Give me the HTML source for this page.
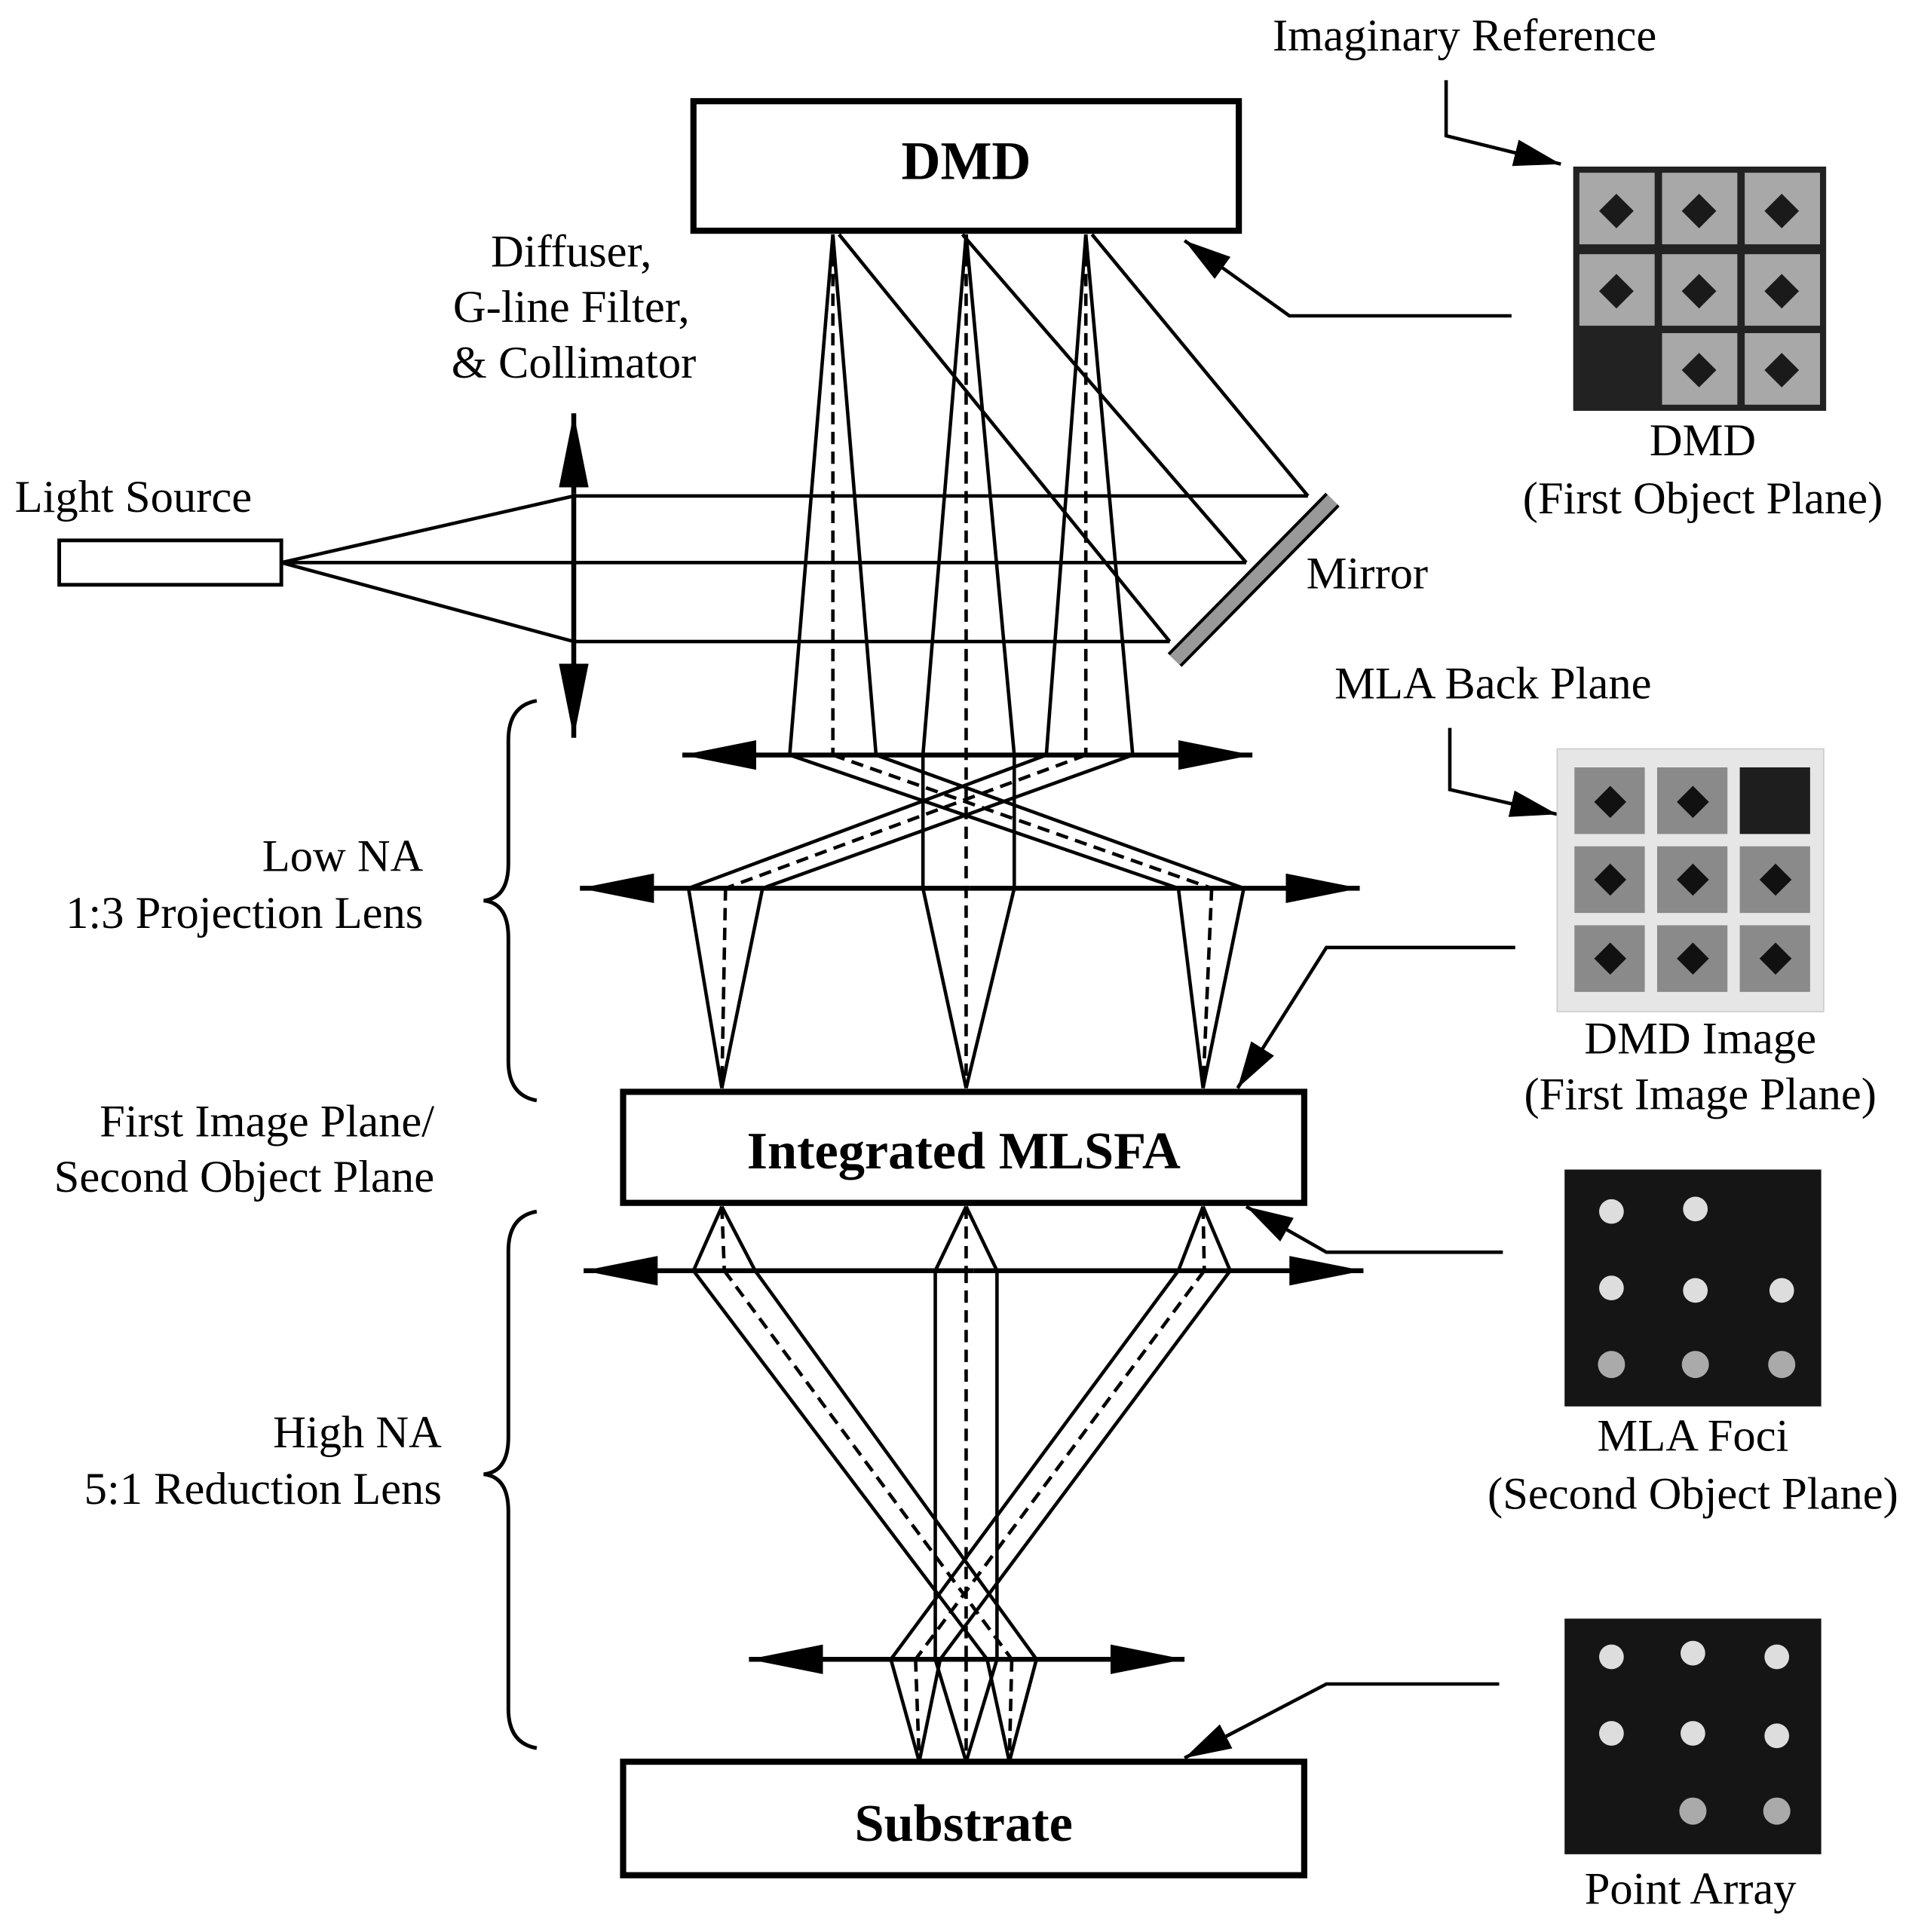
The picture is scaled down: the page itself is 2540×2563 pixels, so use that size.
<!DOCTYPE html>
<html><head><meta charset="utf-8"><style>
html,body{margin:0;padding:0;background:#fff;}
svg{display:block;}
text{font-family:"Liberation Serif",serif;fill:#000;}
</style></head><body>
<svg width="2540" height="2563" viewBox="0 0 1552 1566" xmlns="http://www.w3.org/2000/svg">
<defs>
<marker id="big" viewBox="0 0 10 10" refX="10" refY="5" markerWidth="60" markerHeight="24" markerUnits="userSpaceOnUse" orient="auto" preserveAspectRatio="none"><path d="M0,0 L10,5 L0,10 z" fill="#000"/></marker>
<marker id="sa" viewBox="0 0 10 10" refX="10" refY="5" markerWidth="38" markerHeight="22" markerUnits="userSpaceOnUse" orient="auto" preserveAspectRatio="none"><path d="M0,0 L10,5 L0,10 z" fill="#000"/></marker>
</defs>
<g stroke="#000" fill="none" stroke-width="2.8">
<rect x="562" y="82" width="442" height="105" stroke-width="5"/>
<rect x="505" y="885" width="552" height="90" stroke-width="5"/>
<rect x="505" y="1428" width="552" height="92" stroke-width="5"/>
<rect x="48" y="438" width="180" height="36" stroke-width="3"/>
<path d="M228,456 L465,402 M228,456 L465,456 M228,456 L465,520"/>
<path d="M465,402 L1060,402 M465,456 L1010,456 M465,520 L948,520"/>
<path d="M1060,402 L885,190 M1010,456 L780,190 M948,520 L680,190"/>
<path d="M465,400 L465,335" stroke-width="4" marker-end="url(#big)"/>
<path d="M465,400 L465,598" stroke-width="4" marker-end="url(#big)"/>
<path d="M675,190 L640,612 M675,190 L710,612 M783,190 L748,612 L748,720 L783,882 M783,190 L822,612 L822,720 L783,882 M880,190 L848,612 M880,190 L918,612"/>
<path d="M675,190 L675,612 M783,190 L783,882 M880,190 L880,612" stroke-dasharray="10,6"/>
<path d="M640,612 L955,720 M710,612 L1008,720 M848,612 L558,720 M918,612 L618,720"/>
<path d="M675,612 L982,720 M880,612 L588,720" stroke-dasharray="10,6"/>
<path d="M558,720 L585,882 M618,720 L585,882 M955,720 L975,882 M1008,720 L975,882"/>
<path d="M588,720 L585,882 M982,720 L975,882" stroke-dasharray="10,6"/>
<path d="M783,612 L553,612" stroke-width="4" marker-end="url(#big)"/>
<path d="M783,612 L1015,612" stroke-width="4" marker-end="url(#big)"/>
<path d="M786,720 L470,720" stroke-width="4" marker-end="url(#big)"/>
<path d="M786,720 L1102,720" stroke-width="4" marker-end="url(#big)"/>
<path d="M789,1030 L473,1030" stroke-width="4" marker-end="url(#big)"/>
<path d="M789,1030 L1105,1030" stroke-width="4" marker-end="url(#big)"/>
<path d="M783,1345 L607,1345" stroke-width="4" marker-end="url(#big)"/>
<path d="M783,1345 L960,1345" stroke-width="4" marker-end="url(#big)"/>
<path d="M585,978 L562,1030 M585,978 L612,1030 M783,978 L758,1030 M783,978 L808,1030 M975,978 L955,1030 M975,978 L997,1030"/>
<path d="M585,978 L587,1030 M783,978 L783,1030 M975,978 L976,1030" stroke-dasharray="10,6"/>
<path d="M562,1030 L800,1345 M612,1030 L840,1345 M955,1030 L722,1345 M997,1030 L762,1345 M758,1030 L758,1345 M808,1030 L808,1345"/>
<path d="M587,1030 L820,1345 M976,1030 L742,1345 M783,1030 L783,1345" stroke-dasharray="10,6"/>
<path d="M722,1345 L745,1428 M762,1345 L745,1428 M758,1345 L783,1428 M808,1345 L783,1428 M800,1345 L818,1428 M840,1345 L818,1428"/>
<path d="M742,1345 L745,1428 M783,1345 L783,1428 M820,1345 L818,1428" stroke-dasharray="10,6"/>
<path d="M435,568 Q412,572 412,600 L412,700 Q412,728 392,730 Q412,732 412,760 L412,860 Q412,888 435,892" stroke-width="3"/>
<path d="M435,982 Q412,986 412,1014 L412,1165 Q412,1193 392,1195 Q412,1197 412,1225 L412,1385 Q412,1413 435,1417" stroke-width="3"/>
<path d="M1172,65 L1172,110 L1265,133" marker-end="url(#sa)"/>
<path d="M1225,256 L1045,256 L960,195" marker-end="url(#sa)"/>
<path d="M1175,590 L1175,640 L1262,660" marker-end="url(#sa)"/>
<path d="M1228,768 L1075,768 L1003,882" marker-end="url(#sa)"/>
<path d="M1218,1015 L1075,1015 L1010,978" marker-end="url(#sa)"/>
<path d="M1215,1365 L1075,1365 L960,1425" marker-end="url(#sa)"/>
</g>
<line x1="1080" y1="405" x2="952" y2="535" stroke="#000" stroke-width="16"/>
<line x1="1080" y1="405" x2="952" y2="535" stroke="#999" stroke-width="11"/>
<rect x="1275" y="135" width="205" height="198" fill="#222"/>
<g fill="#a8a8a8">
<rect x="1280" y="140" width="61" height="58"/><rect x="1347" y="140" width="61" height="58"/><rect x="1414" y="140" width="61" height="58"/>
<rect x="1280" y="206" width="61" height="58"/><rect x="1347" y="206" width="61" height="58"/><rect x="1414" y="206" width="61" height="58"/>
<rect x="1347" y="270" width="61" height="58"/><rect x="1414" y="270" width="61" height="58"/>
</g>
<g fill="#1a1a1a">
<path d="M1310,157 l14,14 l-14,14 l-14,-14z"/><path d="M1377,157 l14,14 l-14,14 l-14,-14z"/><path d="M1444,157 l14,14 l-14,14 l-14,-14z"/>
<path d="M1310,222 l14,14 l-14,14 l-14,-14z"/><path d="M1377,222 l14,14 l-14,14 l-14,-14z"/><path d="M1444,222 l14,14 l-14,14 l-14,-14z"/>
<path d="M1377,286 l14,14 l-14,14 l-14,-14z"/><path d="M1444,286 l14,14 l-14,14 l-14,-14z"/>
</g>
<rect x="1262" y="607" width="216" height="213" fill="#e6e6e6" stroke="#ccc"/>
<g fill="#8a8a8a">
<rect x="1276" y="622" width="57" height="54"/><rect x="1343" y="622" width="57" height="54"/>
<rect x="1276" y="686" width="57" height="54"/><rect x="1343" y="686" width="57" height="54"/><rect x="1410" y="686" width="57" height="54"/>
<rect x="1276" y="750" width="57" height="54"/><rect x="1343" y="750" width="57" height="54"/><rect x="1410" y="750" width="57" height="54"/>
</g>
<rect x="1410" y="622" width="57" height="54" fill="#1e1e1e"/>
<g fill="#111">
<path d="M1305,637 l13,13 l-13,13 l-13,-13z"/><path d="M1372,637 l13,13 l-13,13 l-13,-13z"/>
<path d="M1305,700 l13,13 l-13,13 l-13,-13z"/><path d="M1372,700 l13,13 l-13,13 l-13,-13z"/><path d="M1439,700 l13,13 l-13,13 l-13,-13z"/>
<path d="M1305,764 l13,13 l-13,13 l-13,-13z"/><path d="M1372,764 l13,13 l-13,13 l-13,-13z"/><path d="M1439,764 l13,13 l-13,13 l-13,-13z"/>
</g>
<rect x="1268" y="948" width="208" height="192" fill="#151515"/>
<g fill="#ddd">
<circle cx="1306" cy="982" r="10"/><circle cx="1374" cy="980" r="10"/>
<circle cx="1306" cy="1044" r="10"/><circle cx="1374" cy="1046" r="10"/><circle cx="1444" cy="1046" r="10"/>
<circle cx="1306" cy="1106" r="11" fill="#aaa"/><circle cx="1374" cy="1106" r="11" fill="#aaa"/><circle cx="1444" cy="1106" r="11" fill="#aaa"/>
</g>
<rect x="1268" y="1312" width="208" height="191" fill="#151515"/>
<g fill="#ddd">
<circle cx="1306" cy="1343" r="10"/><circle cx="1372" cy="1340" r="10"/><circle cx="1440" cy="1343" r="10"/>
<circle cx="1306" cy="1405" r="10"/><circle cx="1372" cy="1405" r="10"/><circle cx="1440" cy="1407" r="10"/>
<circle cx="1372" cy="1468" r="11" fill="#aaa"/><circle cx="1440" cy="1468" r="11" fill="#aaa"/>
</g>
<g font-size="37">
<text x="783" y="145" text-anchor="middle" font-weight="bold" font-size="44">DMD</text>
<text x="781" y="947" text-anchor="middle" font-weight="bold" font-size="43">Integrated MLSFA</text>
<text x="781" y="1492" text-anchor="middle" font-weight="bold" font-size="43">Substrate</text>
<text x="463" y="216" text-anchor="middle">Diffuser,</text>
<text x="463" y="261" text-anchor="middle">G-line Filter,</text>
<text x="465" y="306" text-anchor="middle">&amp; Collimator</text>
<text x="12" y="415">Light Source</text>
<text x="1108" y="477" text-anchor="middle">Mirror</text>
<text x="343" y="706" text-anchor="end">Low NA</text>
<text x="343" y="752" text-anchor="end">1:3 Projection Lens</text>
<text x="352" y="921" text-anchor="end">First Image Plane/</text>
<text x="352" y="966" text-anchor="end">Second Object Plane</text>
<text x="358" y="1173" text-anchor="end">High NA</text>
<text x="358" y="1219" text-anchor="end">5:1 Reduction Lens</text>
<text x="1187" y="41" text-anchor="middle">Imaginary Reference</text>
<text x="1380" y="369" text-anchor="middle">DMD</text>
<text x="1380" y="416" text-anchor="middle">(First Object Plane)</text>
<text x="1210" y="566" text-anchor="middle">MLA Back Plane</text>
<text x="1378" y="854" text-anchor="middle">DMD Image</text>
<text x="1378" y="899" text-anchor="middle">(First Image Plane)</text>
<text x="1372" y="1176" text-anchor="middle">MLA Foci</text>
<text x="1372" y="1223" text-anchor="middle">(Second Object Plane)</text>
<text x="1370" y="1543" text-anchor="middle">Point Array</text>
</g>
</svg>
</body></html>
